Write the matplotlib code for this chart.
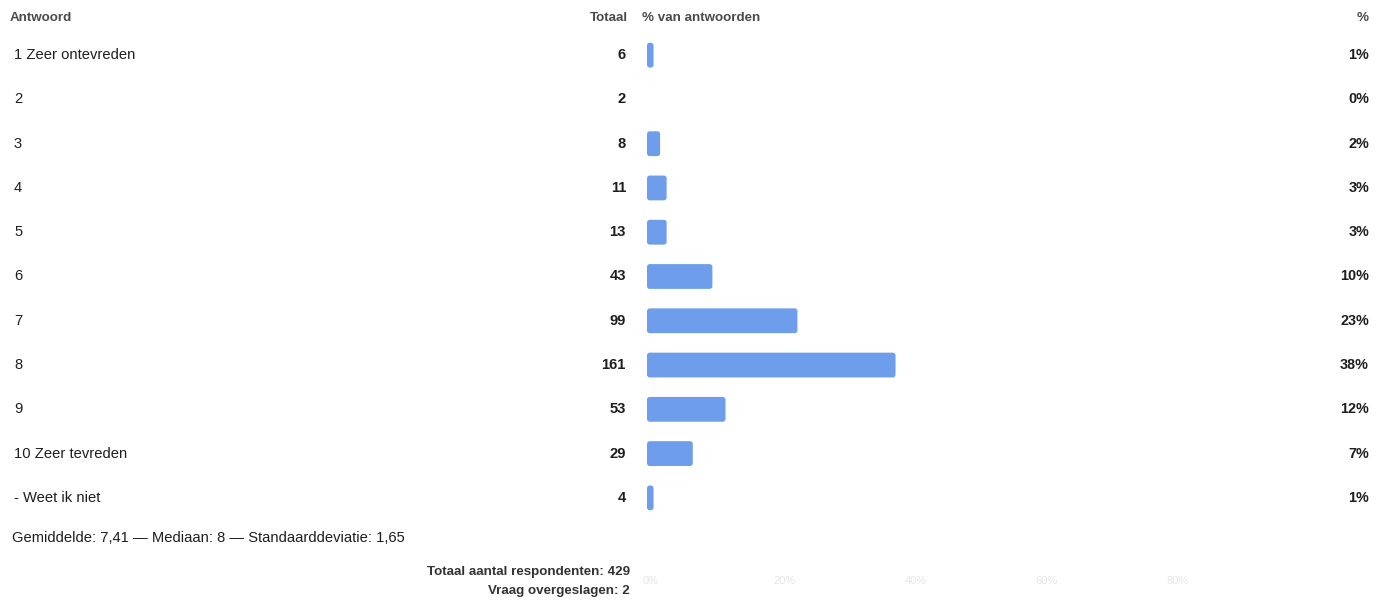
import matplotlib
matplotlib.use("Agg")
import matplotlib.pyplot as plt
from matplotlib.patches import FancyBboxPatch
from matplotlib.transforms import blended_transform_factory

plt.rcParams['font.family'] = ['Liberation Sans', 'DejaVu Sans']

answers = ["1 Zeer ontevreden", "2", "3", "4", "5", "6", "7", "8", "9",
           "10 Zeer tevreden", "- Weet ik niet"]
totals = [6, 2, 8, 11, 13, 43, 99, 161, 53, 29, 4]
percents = [1, 0, 2, 3, 3, 10, 23, 38, 12, 7, 1]
axis_ticks = [0, 20, 40, 60, 80]
axis_ticklabels = ["0%", "20%", "40%", "60%", "80%"]
header = ["Antwoord", "Totaal", "% van antwoorden", "%"]
stats_line = "Gemiddelde: 7,41 \u2014 Mediaan: 8 \u2014 Standaarddeviatie: 1,65"
footer = ["Totaal aantal respondenten: 429", "Vraag overgeslagen: 2"]

W, H = 1388, 600
fig = plt.figure(figsize=(W / 100, H / 100), dpi=100)
fig.patch.set_facecolor("white")

px_per_pct = 6.54
ax_left, ax_top, ax_bottom = 647, 33, 520
ax_width = 100 * px_per_pct
ax = fig.add_axes([ax_left / W, 1 - ax_bottom / H, ax_width / W, (ax_bottom - ax_top) / H])
ax.set_xlim(0, 100)
ax.set_ylim(len(answers) - 0.5, -0.5)
ax.axis("off")

bar_h = 0.56
color = "#6d9deb"
row_px = (ax_bottom - ax_top) / len(answers)
aspect = px_per_pct / row_px
for i, p in enumerate(percents):
    if p <= 0:
        continue
    patch = FancyBboxPatch((0, i - bar_h / 2), p, bar_h,
                           boxstyle="round,pad=0,rounding_size=0.42",
                           mutation_aspect=aspect,
                           facecolor=color, edgecolor="none")
    ax.add_patch(patch)

tr = blended_transform_factory(fig.transFigure, ax.transData)
def fx(px):
    return px / W

hy = -0.5 - 15 / row_px
hc = "#4a4a4a"
hs = 9.6
ax.text(fx(10), hy, header[0], transform=tr, ha="left", va="center", fontsize=hs, fontweight="bold", color=hc)
ax.text(fx(628), hy, header[1], transform=tr, ha="right", va="center", fontsize=hs, fontweight="bold", color=hc)
ax.text(fx(642), hy, header[2], transform=tr, ha="left", va="center", fontsize=hs, fontweight="bold", color=hc)
ax.text(fx(1369), hy, header[3], transform=tr, ha="right", va="center", fontsize=hs, fontweight="bold", color=hc)

tc = "#1e1e1e"
for i, (a, t, p) in enumerate(zip(answers, totals, percents)):
    ax.text(fx(14), i, a, transform=tr, ha="left", va="center", fontsize=10.6, color=tc)
    ax.text(fx(626), i, str(t), transform=tr, ha="right", va="center", fontsize=10.6, fontweight="bold", color=tc)
    ax.text(fx(1369), i, f"{p}%", transform=tr, ha="right", va="center", fontsize=10.4, fontweight="bold", color=tc)

fig.text(fx(12), 1 - 538 / H, stats_line, ha="left", va="center", fontsize=10.6, color=tc)
fig.text(fx(630), 1 - 572 / H, footer[0], ha="right", va="center", fontsize=9.6, fontweight="bold", color="#333333")
fig.text(fx(630), 1 - 591 / H, footer[1], ha="right", va="center", fontsize=9.6, fontweight="bold", color="#333333")

tick_tr = blended_transform_factory(ax.transData, fig.transFigure)
for t, lab in zip(axis_ticks, axis_ticklabels):
    ax.text(t - 0.6, 1 - 581 / H, lab, transform=tick_tr, ha="left", va="center",
            fontsize=8, color="#e6e6e6", clip_on=False)

fig.savefig("out.png", dpi=100, facecolor="white")
